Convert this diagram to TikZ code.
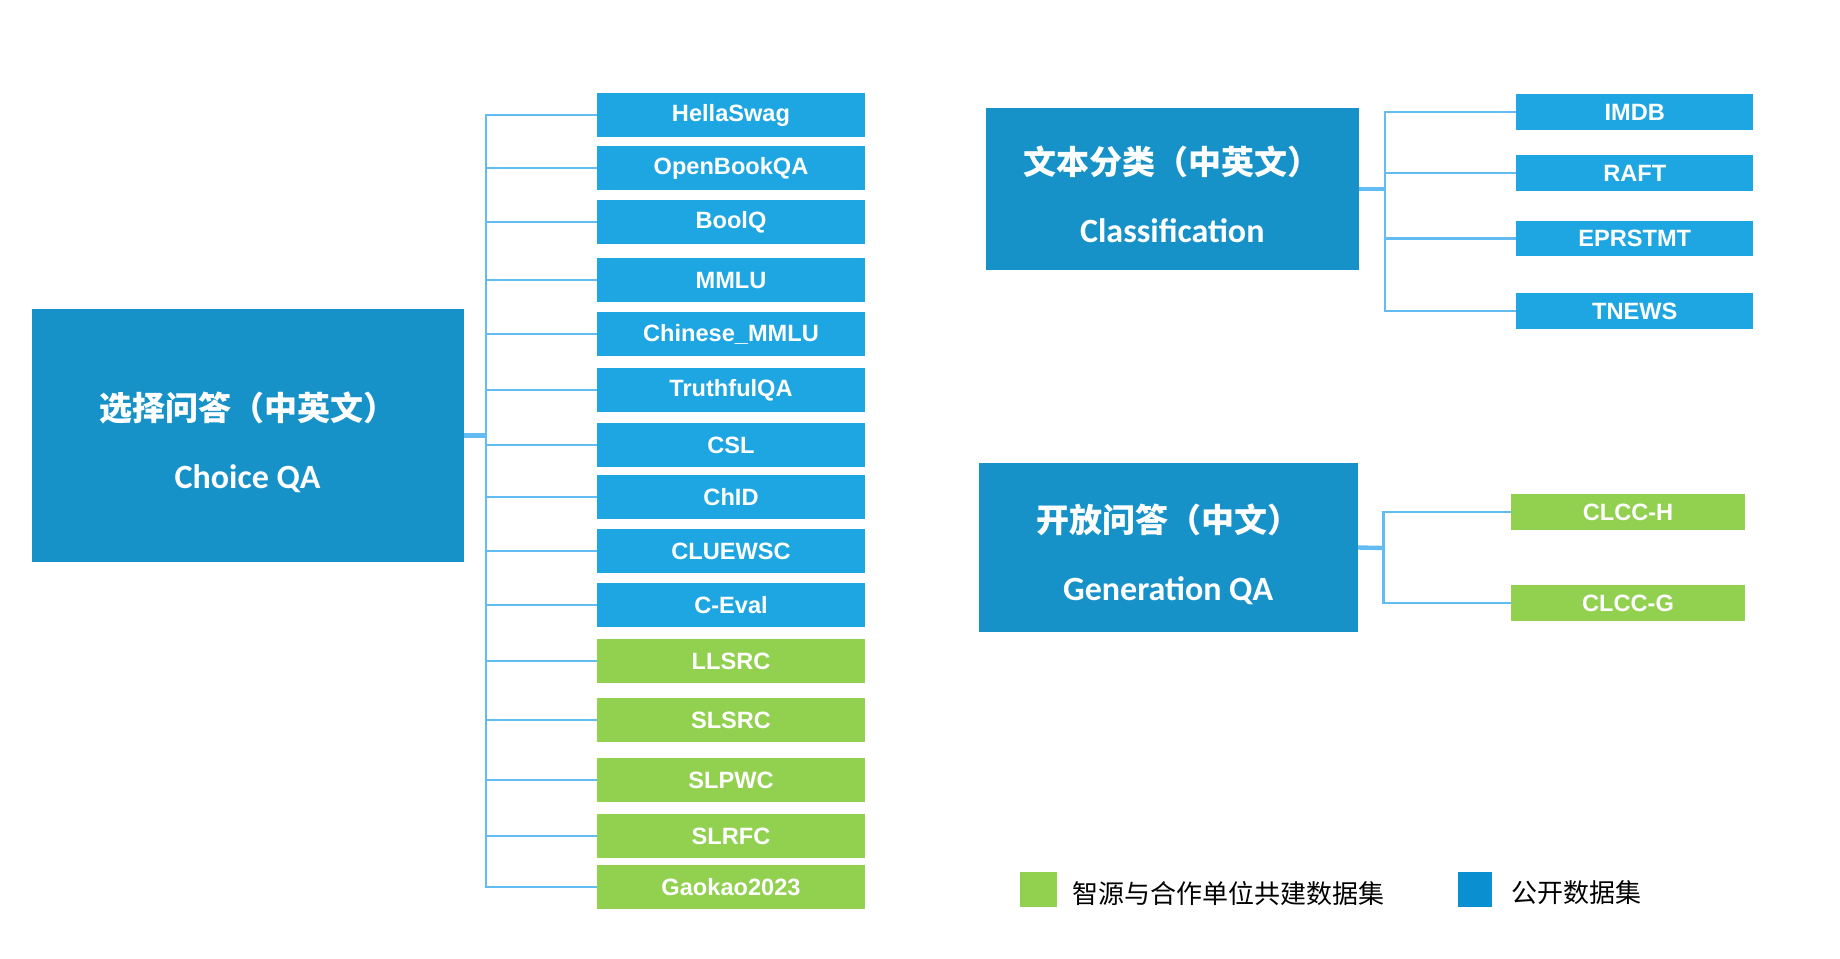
\documentclass[tikz,border=0pt]{standalone}
\usepackage{fontspec}
\setmainfont{Liberation Sans}
\newfontfamily\cjk{Noto Sans CJK SC}
\newfontfamily\titlelatin{Carlito}
\usetikzlibrary{positioning}
\definecolor{TaskBlue}{HTML}{1792C9}
\definecolor{OpenBlue}{HTML}{1EA6E2}
\definecolor{OurGreen}{HTML}{92D050}
\definecolor{Link}{HTML}{62BBF3}
\definecolor{KeyBlue}{HTML}{0A8FD0}

\begin{document}
\begin{tikzpicture}[x=0.5pt, y=-0.5pt, every node/.style={font=\bfseries}]
    \tikzstyle{task}=[fill=TaskBlue, text=white, align=center, inner sep=0pt, font=\bfseries\fontsize{16.5}{34}\selectfont]
    \tikzstyle{open}=[fill=OpenBlue, text=white, inner sep=0pt, minimum width=133.8pt, minimum height=21.7pt, font=\bfseries\fontsize{11.8}{14}\selectfont]
    \tikzstyle{ours}=[open, fill=OurGreen]
    \tikzstyle{small}=[minimum width=118.5pt, minimum height=17.75pt]
    \tikzstyle{link}=[draw=Link, line width=1.2pt]
    \tikzstyle{stub}=[draw=Link, line width=2.2pt]
    \tikzstyle{keytext}=[inner sep=0pt, yshift=-1.8pt, font=\cjk\fontsize{13}{15}\selectfont]
    \useasboundingbox (0,0) rectangle (1840,958);

    % choice QA
    \node[task, minimum width=215.9pt, minimum height=126.8pt] (choice) at (247.6,435.4)
      {\raisebox{-3.6pt}[\height][\depth]{\cjk 选择问答（中英文）}\\\raisebox{-3.6pt}[\height][\depth]{\titlelatin\fontsize{17}{34}\selectfont Choice QA}};
    \coordinate (cq) at (485.8,435.4);
    \node[open] (hella) at (731,115) {HellaSwag};
    \node[open] (obqa) at (731,168) {OpenBookQA};
    \node[open] (boolq) at (731,222) {BoolQ};
    \node[open] (mmlu) at (731,280) {MMLU};
    \node[open] (cmmlu) at (731,334) {Chinese\_MMLU};
    \node[open] (tqa) at (731,390) {TruthfulQA};
    \node[open] (csl) at (731,445) {CSL};
    \node[open] (chid) at (731,497) {ChID};
    \node[open] (wsc) at (731,551) {CLUEWSC};
    \node[open] (ceval) at (731,605) {C{-}Eval};
    \node[ours] (llsrc) at (731,661) {LLSRC};
    \node[ours] (slsrc) at (731,720) {SLSRC};
    \node[ours] (slpwc) at (731,780) {SLPWC};
    \node[ours] (slrfc) at (731,836) {SLRFC};
    \node[ours] (gaokao) at (731,887) {Gaokao2023};
    \draw[stub] (choice.east) -- (cq);
    \draw[link] (cq) |- (hella);
    \draw[link] (cq) |- (obqa);
    \draw[link] (cq) |- (boolq);
    \draw[link] (cq) |- (mmlu);
    \draw[link] (cq) |- (cmmlu);
    \draw[link] (cq) |- (tqa);
    \draw[link] (cq) |- (csl);
    \draw[link] (cq) |- (chid);
    \draw[link] (cq) |- (wsc);
    \draw[link] (cq) |- (ceval);
    \draw[link] (cq) |- (llsrc);
    \draw[link] (cq) |- (slsrc);
    \draw[link] (cq) |- (slpwc);
    \draw[link] (cq) |- (slrfc);
    \draw[link] (cq) |- (gaokao);

    % classification
    \node[task, minimum width=186.6pt, minimum height=81pt] (cls) at (1172.3,189)
      {\raisebox{-2.6pt}[\height][\depth]{\cjk 文本分类（中英文）}\\\raisebox{-2.6pt}[\height][\depth]{\titlelatin\fontsize{17}{34}\selectfont Classification}};
    \coordinate (cc) at (1384.7,189);
    \node[open, small] (imdb) at (1634.7,112) {IMDB};
    \node[open, small] (raft) at (1634.7,173) {RAFT};
    \node[open, small] (eprs) at (1634.7,238.5) {EPRSTMT};
    \node[open, small] (tnews) at (1634.7,311) {TNEWS};
    \draw[stub] (cls.east) -- (cc);
    \draw[link] (cc) |- (imdb);
    \draw[link] (cc) |- (raft);
    \draw[link] (cc) |- (eprs);
    \draw[link] (cc) |- (tnews);

    % generation QA
    \node[task, minimum width=189.5pt, minimum height=84.8pt] (gen) at (1168.2,547.5)
      {\raisebox{-3.2pt}[\height][\depth]{\cjk 开放问答（中文）}\\\raisebox{-3.2pt}[\height][\depth]{\titlelatin\fontsize{17}{34}\selectfont Generation QA}};
    \coordinate (cg) at (1383.6,548);
    \node[ours, minimum width=116.75pt, minimum height=18.25pt] (clcch) at (1628,512) {CLCC{-}H};
    \node[ours, minimum width=116.75pt, minimum height=18.25pt] (clccg) at (1628,603) {CLCC{-}G};
    \draw[stub] (gen.east) -- (cg);
    \draw[link] (cg) |- (clcch);
    \draw[link] (cg) |- (clccg);

    % legend
    \node[fill=OurGreen, inner sep=0pt, minimum width=18.75pt, minimum height=17.6pt] (gkey) at (1038.5,889.5) {};
    \node[keytext, right=7pt of gkey] (gtext) {智源与合作单位共建数据集};
    \node[fill=KeyBlue, inner sep=0pt, minimum width=17pt, minimum height=17.6pt] (bkey) at (1474.5,889.5) {};
    \node[keytext, right=9.5pt of bkey] (btext) {公开数据集};
  \end{tikzpicture}
\end{document}
